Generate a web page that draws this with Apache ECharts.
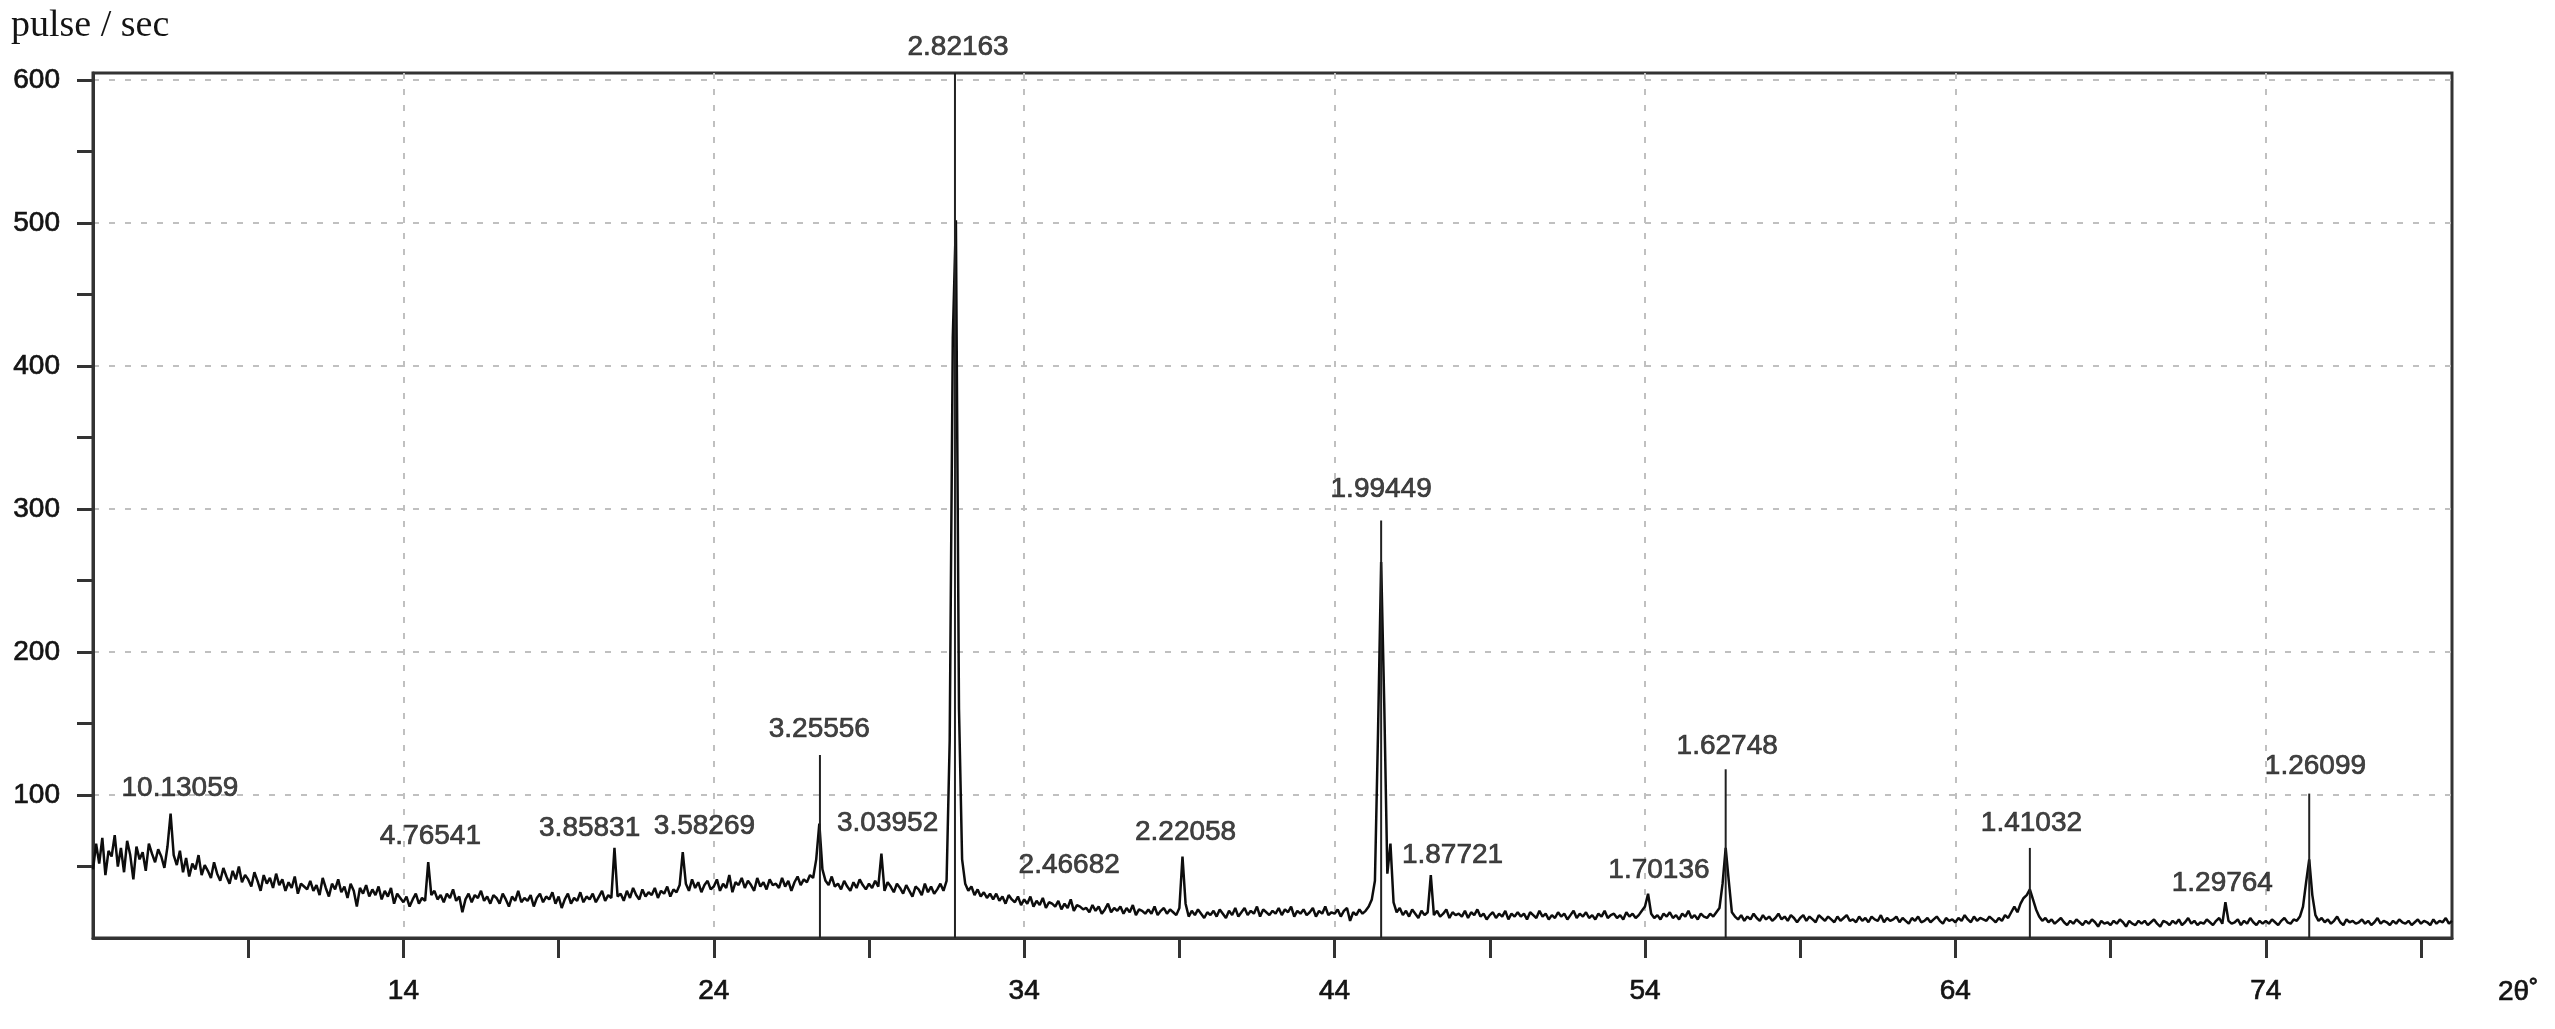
<!DOCTYPE html>
<html><head><meta charset="utf-8">
<script src="https://cdn.jsdelivr.net/npm/echarts@6.0.0/dist/echarts.min.js"></script>
<style>html,body{margin:0;padding:0;background:#fff}#c{width:2555px;height:1029px}</style>
</head><body><div id="c"></div>
<script>
// Scan: start angle, step (2θ, degrees) and counts
const angleStart = 4.0;
const angleStep = 0.1;
const counts = [
  48,66,52,70,44,61,57,72,50,63,
  46,68,58,41,64,55,60,47,66,59,
  53,62,57,49,64,87,58,51,61,46,
  56,43,52,48,58,44,51,47,42,53,
  45,40,49,43,38,47,41,50,39,44,
  41,36,46,40,33,44,38,42,35,45,
  37,41,33,39,35,43,31,38,36,34,
  40,33,37,30,42,35,29,38,34,41,
  32,36,28,38,33,22,35,31,37,29,
  34,30,36,27,33,29,35,24,31,28,
  25,29,22,27,31,24,28,26,53,30,
  33,27,30,25,31,28,34,26,29,18,
  27,31,25,30,28,33,26,29,24,30,
  28,24,31,27,22,29,26,33,25,28,
  26,30,22,28,31,25,29,27,32,24,
  29,21,27,31,24,28,26,32,25,29,
  27,31,25,29,33,26,30,28,63,29,
  31,26,33,28,35,30,27,34,29,32,
  30,35,28,33,31,36,29,34,32,37,
  60,38,33,41,35,39,32,37,40,34,
  36,41,33,38,35,44,32,39,37,42,
  35,40,37,33,42,36,39,34,41,37,
  38,35,42,36,40,33,39,43,37,41,
  39,44,42,55,80,48,40,37,43,36,
  38,34,40,36,33,39,35,41,37,34,
  38,35,40,36,59,33,39,36,32,38,
  35,31,37,33,29,36,34,30,38,32,
  36,31,34,38,33,40,138,420,502,160,
  55,38,33,36,30,34,29,32,28,31,
  27,31,26,29,24,30,27,25,29,23,
  27,24,29,22,26,23,28,21,25,24,
  22,26,20,24,21,27,19,23,22,20,
  21,18,23,19,22,17,20,24,18,21,
  19,22,17,21,18,23,16,20,19,17,
  20,17,22,16,19,21,17,20,18,16,
  21,57,24,15,19,16,20,17,14,18,
  16,19,15,20,17,14,19,16,21,15,
  18,21,16,19,17,22,15,20,18,16,
  19,17,21,16,20,18,22,15,19,17,
  20,16,18,21,15,19,17,22,16,18,
  17,20,15,19,21,12,18,16,20,17,
  19,22,27,40,144,263,164,45,66,25,
  18,21,16,19,15,20,17,14,19,16,
  18,44,16,19,15,17,20,14,18,16,
  17,15,19,14,18,16,20,15,17,13,
  16,18,14,17,15,19,13,17,15,18,
  15,17,13,18,16,14,19,15,17,13,
  16,14,18,15,17,13,16,19,14,17,
  15,18,14,16,13,17,15,19,14,16,
  17,14,16,13,18,15,17,14,16,19,
  22,31,17,14,16,13,17,15,18,14,
  16,13,17,15,19,14,16,13,17,15,
  14,17,15,18,21,38,63,40,18,15,
  13,16,12,15,13,17,14,12,16,13,
  15,12,14,17,13,15,12,16,14,11,
  14,16,12,15,13,11,16,14,12,15,
  13,11,15,12,14,16,12,13,11,15,
  12,14,11,15,13,12,16,11,14,12,
  13,15,11,14,12,10,14,12,15,11,
  12,14,11,13,15,12,10,14,12,13,
  11,14,12,16,13,11,15,12,14,13,
  12,15,13,11,14,12,16,14,18,22,
  18,24,28,30,34,27,20,15,12,14,
  11,13,10,12,14,11,9,12,10,13,
  11,9,12,10,13,11,8,12,10,11,
  9,12,10,13,11,8,12,10,9,12,
  10,12,9,11,13,10,8,12,11,9,
  12,10,13,9,11,14,10,12,9,11,
  10,13,11,9,12,14,10,25,12,10,
  11,13,9,12,10,14,11,9,12,10,
  12,10,13,11,9,12,14,11,10,13,
  12,15,22,39,55,30,16,12,14,11,
  13,10,12,15,11,9,13,11,12,10,
  11,13,10,12,9,11,14,10,12,11,
  9,12,10,13,11,10,12,9,11,13,
  10,12,11,9,13,10,12,11,14,10,
  12
];
// Reference (stick) lines: [2θ, height]
const sticks = [[27.42,128],[31.77,605],[45.5,292],[56.6,118],[66.4,63],[75.4,101]];
// d-spacing labels: [2θ, height, text]
const peakLabels = [
  [6.8,105,'10.13059'],[14.87,71,'4.76541'],[20.0,77,'3.85831'],[23.7,78,'3.58269'],
  [27.4,146,'3.25556'],[29.6,80.5,'3.03952'],[31.87,623,'2.82163'],[35.45,51,'2.46682'],
  [39.2,74,'2.22058'],[45.5,314,'1.99449'],[47.8,58,'1.87721'],[54.45,47.6,'1.70136'],
  [56.65,134,'1.62748'],[66.45,80.5,'1.41032'],[72.6,38.5,'1.29764'],[75.6,120,'1.26099']
];
const xTicks = [9,14,19,24,29,34,39,44,49,54,59,64,69,74,79];
const xLabels = [14,24,34,44,54,64,74];
const yTicks = [50,100,150,200,250,300,350,400,450,500,550,600];
const yLabels = [100,200,300,400,500,600];
const yName = 'pulse / sec';
const xName = '2θ˚';

const scan = counts.map((c, i) => [Math.round((angleStart + i * angleStep) * 10) / 10, c]);
const FONT = '"Liberation Sans", Arial, sans-serif';
const TXT = '#141414';
const AX = '#333333';
const txtStyle = {fontFamily: FONT, fontSize: 28, color: TXT, textBorderColor: TXT, textBorderWidth: 0.7};

const chart = echarts.init(document.getElementById('c'), null, {renderer: 'canvas'});
chart.setOption({
  animation: false,
  backgroundColor: '#ffffff',
  title: {
    text: yName, left: 6, top: 2,
    textStyle: {fontFamily: '"Liberation Serif", "Times New Roman", serif', fontSize: 38, fontWeight: 'normal', color: '#141414'}
  },
  grid: {left: 93, right: 103, top: 73, bottom: 91, show: true, borderColor: AX, borderWidth: 3, backgroundColor: 'transparent'},
  xAxis: [{
    type: 'value', min: 4, max: 80, interval: 5,
    name: xName, nameLocation: 'end', nameGap: 46,
    nameTextStyle: Object.assign({}, txtStyle, {verticalAlign: 'top', padding: [40, 0, 0, 0]}),
    axisLine: {show: true, lineStyle: {color: AX, width: 3}},
    axisTick: {show: true, inside: false, length: 20, lineStyle: {color: AX, width: 3}, customValues: xTicks},
    axisLabel: Object.assign({show: true, margin: 39, customValues: xLabels,
      formatter: v => (xLabels.indexOf(v) >= 0 ? String(v) : '')}, txtStyle),
    splitLine: {show: false}
  }, {
    type: 'value', min: 4, max: 80, interval: 10, position: 'bottom',
    axisLine: {show: false}, axisTick: {show: false}, axisLabel: {show: false},
    splitLine: {show: true, showMinLine: false, showMaxLine: false, lineStyle: {color: '#c0c0c0', width: 2, type: [6, 10]}}
  }],
  yAxis: [{
    type: 'value', min: 0, max: 605, interval: 50,
    axisLine: {show: true, lineStyle: {color: AX, width: 3}},
    axisTick: {show: true, inside: false, length: 16, lineStyle: {color: AX, width: 3}, customValues: yTicks},
    axisLabel: Object.assign({show: true, margin: 33, customValues: yLabels,
      formatter: v => (yLabels.indexOf(v) >= 0 ? String(v) : '')}, txtStyle),
    splitLine: {show: false}
  }, {
    type: 'value', min: 0, max: 605, interval: 100, position: 'left',
    axisLine: {show: false}, axisTick: {show: false}, axisLabel: {show: false},
    splitLine: {show: true, showMinLine: false, showMaxLine: false, lineStyle: {color: '#c0c0c0', width: 2, type: [6, 10]}}
  }],
  series: [{
    type: 'line', xAxisIndex: 0, yAxisIndex: 0, data: scan, symbol: 'none',
    lineStyle: {color: '#0d0d0d', width: 2.5}, z: 3
  }, {
    type: 'custom', xAxisIndex: 0, yAxisIndex: 0, data: sticks, z: 4, clip: false,
    renderItem: function (params, api) {
      const p0 = api.coord([api.value(0), 0]);
      const p1 = api.coord([api.value(0), api.value(1)]);
      return {type: 'line', shape: {x1: p0[0], y1: p0[1], x2: p1[0], y2: p1[1]}, style: {stroke: '#222', lineWidth: 2}};
    }
  }, {
    type: 'scatter', xAxisIndex: 0, yAxisIndex: 0, clip: false, z: 5,
    symbolSize: 1, itemStyle: {color: 'rgba(0,0,0,0)'},
    data: peakLabels.map(d => ({value: [d[0], d[1]], name: d[2]})),
    label: Object.assign({show: true, position: 'inside', formatter: '{b}'}, txtStyle),
    emphasis: {disabled: true}
  }]
});
</script></body></html>
